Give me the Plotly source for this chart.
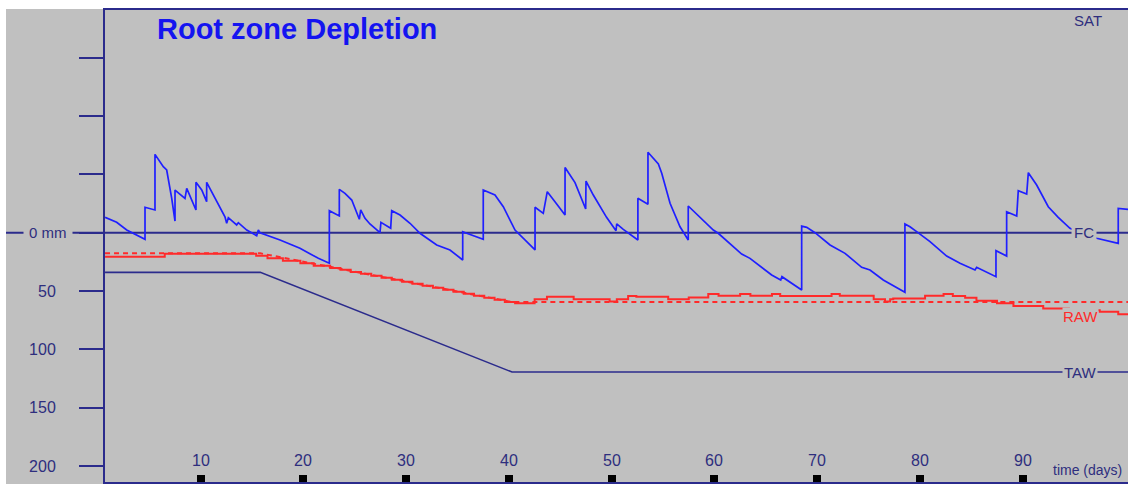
import plotly.graph_objects as go

# ---------------- data ----------------
depl_day = [0.69, 1.34, 1.82, 2.80, 4.58, 4.58, 5.55, 5.55, 6.36, 6.69, 6.91, 7.18, 7.50, 7.50,
            8.47, 8.64, 9.54, 9.54, 10.10, 10.58, 10.58, 11.23, 12.36, 12.53, 12.69, 13.50, 13.66,
            14.48, 15.45, 15.61, 15.77, 17.72, 19.66, 21.45, 22.52, 22.52, 23.49, 23.49, 24.04,
            24.70, 25.44, 25.57, 25.99, 26.47, 27.45, 27.54, 28.49, 28.59, 29.40, 30.37, 31.34,
            32.97, 34.26, 35.50, 35.50, 35.89, 36.37, 37.50, 37.50, 38.64, 39.45, 40.59, 42.54,
            42.54, 43.34, 43.73, 44.48, 45.46, 45.46, 46.43, 47.47, 47.50, 48.21, 49.50, 50.42,
            50.49, 51.13, 52.55, 52.55, 53.53, 53.53, 54.54, 54.87, 55.68, 56.65, 57.45, 57.45,
            59.89, 60.37, 62.65, 63.46, 65.57, 66.45, 66.57, 68.49, 68.49, 68.98, 69.79, 71.25,
            72.71, 74.33, 75.14, 76.43, 78.54, 78.54, 79.03, 79.68, 80.98, 82.60, 83.90, 85.36,
            85.52, 87.40, 87.40, 88.44, 88.44, 89.42, 89.57, 90.39, 90.55, 91.36, 92.49, 93.46,
            94.60, 95.90, 97.20, 99.30, 99.30, 100.25]
depl_mm = [-13.2, -10.9, -8.9, -2.3, 5.7, -21.8, -19.5, -67.2, -56.6, -53.8, -43.7, -29.5, -10.0, -36.6,
           -29.5, -38.0, -19.5, -43.2, -36.6, -26.6, -43.2, -32.3, -13.7, -8.1, -12.9, -6.6, -8.6,
           -2.3, 2.6, -2.3, 0.0, 6.3, 13.4, 22.0, 26.2, -18.9, -14.4, -37.2, -33.8,
           -28.0, -11.5, -19.5, -12.3, -7.5, 0.0, -8.9, -3.8, -18.9, -15.2, -8.1, 0.5,
           10.5, 14.8, 23.4, -0.9, 0.5, 2.0, 5.7, -36.6, -32.3, -22.3, -2.3, 14.8,
           -21.8, -16.6, -35.2, -26.6, -15.2, -56.0, -43.0, -20.3, -44.3, -32.3, -13.2, -1.7,
           -7.5, -2.9, 6.3, -29.5, -24.5, -69.0, -59.0, -51.0, -25.2, -5.1, 6.3, -22.9,
           -2.3, 0.5, 18.3, 22.0, 36.3, 40.6, 37.7, 49.1, -5.7, -4.6, 0.0, 10.5,
           17.7, 29.7, 32.0, 40.6, 51.1, -7.5, -5.1, -0.9, 7.7, 20.0, 26.2, 32.0,
           29.7, 37.7, 15.4, 20.0, -18.0, -14.3, -36.0, -33.2, -51.5, -40.9, -22.3, -13.2,
           -3.8, 1.1, 4.8, 9.1, -20.9, -20.0]

taw_day = [0.69, 15.8, 40.3, 100.25]
taw_mm = [34.0, 34.0, 119.5, 119.5]

rawp_day = [0.69, 15.8, 40.3, 100.25]
rawp_mm = [17.7, 17.7, 59.5, 59.5]

raw_day = [0.69, 6.5, 15.4, 16.5, 18.0, 19.7, 21.0, 22.6, 23.6, 24.6, 25.6, 26.6, 27.6, 28.6,
           29.6, 30.6, 31.6, 32.6, 33.6, 34.6, 35.6, 36.6, 37.6, 38.6, 39.6, 40.6, 42.5, 43.7,
           46.3, 49.8, 50.5, 51.6, 52.4, 55.5, 57.5, 59.4, 60.4, 62.5, 63.5, 65.6, 66.4, 71.4,
           72.2, 75.5, 76.6, 77.1, 77.4, 80.5, 82.3, 83.2, 84.4, 85.5, 87.5, 89.1, 92.0, 94.5,
           97.5, 99.3, 100.25]
raw_mm = [20.6, 18.0, 19.7, 22.0, 24.0, 26.2, 28.3, 30.2, 31.8, 33.6, 35.2, 37.0, 38.6, 40.4,
          42.0, 43.8, 45.5, 47.2, 49.0, 50.6, 52.4, 54.0, 55.8, 57.6, 59.4, 60.6, 57.1, 54.9,
          57.0, 59.0, 57.0, 54.3, 54.9, 57.1, 55.5, 52.6, 54.0, 52.6, 54.0, 52.6, 54.3, 52.6,
          54.0, 57.1, 59.1, 57.1, 56.5, 54.0, 52.6, 54.3, 55.7, 58.3, 60.6, 62.9, 64.9, 66.5,
          67.7, 70.0, 70.0]

y_ticks = [-150, -100, -50, 0, 50, 100, 150, 200]
y_ticktext = ["", "", "", "", "50", "100", "150", "200"]
x_ticks = [10, 20, 30, 40, 50, 60, 70, 80, 90]

# ---------------- style ----------------
GRAY = "#C0C0C0"
NAVY = "#2B2B8C"
TXT = "#2E2E7E"
BLUE = "#1F1FFF"
RED = "#FF2A2A"
FONT = "Liberation Sans, Arial, sans-serif"

W, H = 1128, 484
ML, MR, MT, MB = 105, 0, 10, 2
PW, PH = W - ML - MR, H - MT - MB


def px_x(px):
    return (px - ML) / PW


def px_y(py):
    return (H - MB - py) / PH


fig = go.Figure()

fig.add_trace(go.Scatter(x=taw_day, y=taw_mm, mode="lines",
                         line=dict(color=NAVY, width=1.6), hoverinfo="skip"))
fig.add_trace(go.Scatter(x=rawp_day, y=rawp_mm, mode="lines",
                         line=dict(color=RED, width=2, dash="5px,4px"), hoverinfo="skip"))
fig.add_trace(go.Scatter(x=raw_day, y=raw_mm, mode="lines", line_shape="hv",
                         line=dict(color=RED, width=2), hoverinfo="skip"))
fig.add_trace(go.Scatter(x=depl_day, y=depl_mm, mode="lines",
                         line=dict(color=BLUE, width=1.7), hoverinfo="skip"))

shapes = [
    # white strips at top and left of the window
    dict(type="rect", xref="paper", yref="paper", x0=px_x(0), x1=1.01, y0=px_y(9), y1=px_y(0),
         fillcolor="white", line=dict(width=0), layer="below"),
    dict(type="rect", xref="paper", yref="paper", x0=px_x(0), x1=px_x(6), y0=px_y(H), y1=px_y(0),
         fillcolor="white", line=dict(width=0), layer="below"),
    # FC line (0 mm) across the whole width
    dict(type="line", xref="paper", yref="y", x0=px_x(6), x1=1, y0=0, y1=0,
         line=dict(color=NAVY, width=2), layer="below"),
]

annotations = [
    dict(text="<b>Root zone Depletion</b>", xref="paper", yref="paper", x=px_x(155), y=px_y(29),
         xanchor="left", yanchor="middle", showarrow=False,
         font=dict(family=FONT, size=29, color="#1414F0")),
    dict(text="0 mm", xref="paper", yref="y", x=px_x(48), y=0, xanchor="center", yanchor="middle",
         showarrow=False, bgcolor=GRAY, borderpad=5, font=dict(family=FONT, size=15, color=TXT)),
    dict(text="FC", xref="x", yref="y", x=96.0, y=0, xanchor="center", yanchor="middle",
         showarrow=False, bgcolor=GRAY, borderpad=2, font=dict(family=FONT, size=15, color=TXT)),
    dict(text="SAT", xref="x", yref="paper", x=96.4, y=px_y(20), xanchor="center", yanchor="middle",
         showarrow=False, bgcolor=GRAY, borderpad=1, font=dict(family=FONT, size=15, color=TXT)),
    dict(text="RAW", xref="x", yref="y", x=95.6, y=71.5, xanchor="center", yanchor="middle",
         showarrow=False, bgcolor=GRAY, borderpad=0, font=dict(family=FONT, size=15, color=RED)),
    dict(text="TAW", xref="x", yref="y", x=95.6, y=120.3, xanchor="center", yanchor="middle",
         showarrow=False, bgcolor=GRAY, borderpad=1, font=dict(family=FONT, size=15, color=TXT)),
    dict(text="time (days)", xref="paper", yref="paper", x=px_x(1087), y=px_y(470),
         xanchor="center", yanchor="middle", showarrow=False,
         font=dict(family=FONT, size=14, color=TXT)),
]
for v in x_ticks:
    annotations.append(dict(text=str(v), xref="x", yref="paper", x=v, y=px_y(460),
                            xanchor="center", yanchor="middle", showarrow=False,
                            font=dict(family=FONT, size=16, color=TXT)))

fig.update_layout(
    width=W, height=H, autosize=False,
    margin=dict(l=ML, r=MR, t=MT, b=MB, pad=0),
    paper_bgcolor=GRAY, plot_bgcolor="rgba(0,0,0,0)",
    showlegend=False,
    shapes=shapes, annotations=annotations,
    xaxis=dict(range=[0.686, 100.25], tickvals=x_ticks, showticklabels=False,
               ticks="inside", ticklen=7, tickwidth=8, tickcolor="black",
               showline=True, linecolor=NAVY, linewidth=2, mirror=True,
               showgrid=False, zeroline=False),
    yaxis=dict(range=[213.8, -191.0], tickvals=y_ticks, ticktext=y_ticktext,
               ticks="outside", ticklen=24, tickwidth=2, tickcolor=NAVY,
               ticklabelstandoff=20,
               showline=True, linecolor=NAVY, linewidth=2, mirror=False,
               showgrid=False, zeroline=False,
               tickfont=dict(family=FONT, size=16, color=TXT)),
)

fig.write_html("out.html")
